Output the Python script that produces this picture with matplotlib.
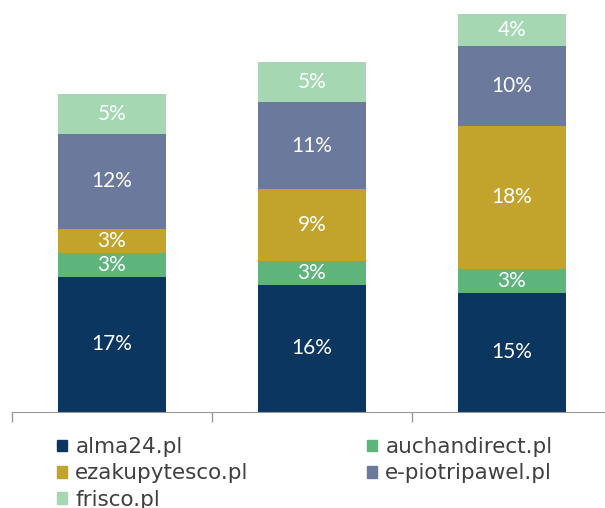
import matplotlib
matplotlib.use("Agg")
import matplotlib.pyplot as plt
from matplotlib.patches import Patch
import numpy as np

categories = ["A", "B", "C"]
series_names = ["alma24.pl", "auchandirect.pl", "ezakupytesco.pl", "e-piotripawel.pl", "frisco.pl"]
alma24 = [17, 16, 15]
auchandirect = [3, 3, 3]
ezakupytesco = [3, 9, 18]
epiotripawel = [12, 11, 10]
frisco = [5, 5, 4]
colors = ["#0b3660", "#5db57c", "#c2a32b", "#6b7a9c", "#a4d7b2"]

plt.rcParams['font.family'] = ['Lato', 'DejaVu Sans']

fig = plt.figure(figsize=(6.05, 5.08), dpi=100)
ax = fig.add_axes([12/605, 96/508, 600/605, 412/508])

x = np.arange(len(categories))
bottom = np.zeros(len(categories))
for name, vals, c in zip(series_names, [alma24, auchandirect, ezakupytesco, epiotripawel, frisco], colors):
    vals = np.array(vals, dtype=float)
    ax.bar(x, vals, width=0.54, bottom=bottom, color=c, label=name)
    for xi, b, v in zip(x, bottom, vals):
        ax.text(xi, b + v / 2, f"{int(v)}%", ha="center", va="center",
                color="white", fontsize=15, fontweight="normal")
    bottom += vals

ax.set_xlim(-0.5, 2.5)
ax.set_ylim(0, 51.8)
ax.set_xticks([-0.5, 0.5, 1.5, 2.5])
ax.set_xticklabels([])
ax.tick_params(axis="x", direction="out", length=7, color="#999999", width=1)
ax.set_yticks([])
for s in ["top", "right", "left"]:
    ax.spines[s].set_visible(False)
ax.spines["bottom"].set_color("#999999")

handles = [Patch(color=c) for c in colors]
order = [0, 2, 4, 1, 3]
fig.legend([handles[i] for i in order], [series_names[i] for i in order],
           ncol=2, loc="upper left", bbox_to_anchor=(57/605, 1 - 437/508),
           frameon=False, prop={'family': 'DejaVu Sans', 'size': 15.5},
           handlelength=0.45, handleheight=0.45,
           handletextpad=0.4, labelspacing=0.3, columnspacing=5.5,
           labelcolor="#404040", borderpad=0, borderaxespad=0)

fig.savefig("out.png", dpi=100)
